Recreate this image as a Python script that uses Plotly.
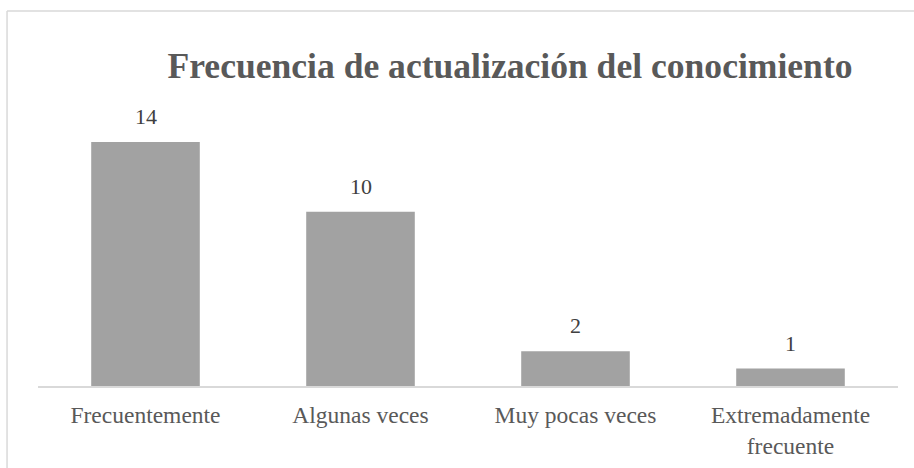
import plotly.graph_objects as go

categories = ["Frecuentemente", "Algunas veces", "Muy pocas veces", "Extremadamente<br>frecuente"]
values = [14, 10, 2, 1]
title_text = "Frecuencia de actualización del conocimiento"

SERIF = "Liberation Serif"

fig = go.Figure()
fig.add_trace(go.Bar(
    x=categories, y=values,
    width=0.505,
    marker=dict(color="#a2a2a2", line=dict(width=0)),
    hoverinfo="skip",
))

annotations = []
for c, v in zip(categories, values):
    annotations.append(dict(
        x=c, y=v, xref="x", yref="y", text=str(v), showarrow=False,
        yanchor="bottom", yshift=11,
        font=dict(family=SERIF, size=22, color="#404040"),
    ))

fig.update_layout(
    width=914, height=468,
    margin=dict(l=38, r=16, t=107, b=82, pad=0, autoexpand=False),
    paper_bgcolor="white", plot_bgcolor="white",
    font=dict(family=SERIF),
    title=dict(text="<b>" + title_text + "</b>", x=0.558, xanchor="center",
               y=1 - 66 / 468, yanchor="middle",
               font=dict(family=SERIF, size=35.6, color="#595959")),
    showlegend=False,
    xaxis=dict(showline=True, linecolor="#d9d9d9", linewidth=1.5, showgrid=False,
               automargin=False,
               ticks="outside", ticklen=7, tickcolor="rgba(0,0,0,0)",
               tickfont=dict(family=SERIF, size=23.5, color="#595959"),
               fixedrange=True),
    yaxis=dict(range=[0, 16], visible=False, showgrid=False, zeroline=False, fixedrange=True),
    annotations=annotations,
    shapes=[
        dict(type="line", xref="paper", yref="paper", x0=-0.036, x1=1.02, y0=1.344, y1=1.344,
             line=dict(color="#d9d9d9", width=1.5)),
        dict(type="line", xref="paper", yref="paper", x0=-0.036, x1=-0.036, y0=1.344, y1=-0.3,
             line=dict(color="#d9d9d9", width=1.5)),
    ],
)

fig.write_html("out.html", config={"displayModeBar": False},
               post_script="document.body.style.margin='0';document.body.style.overflow='hidden';")
